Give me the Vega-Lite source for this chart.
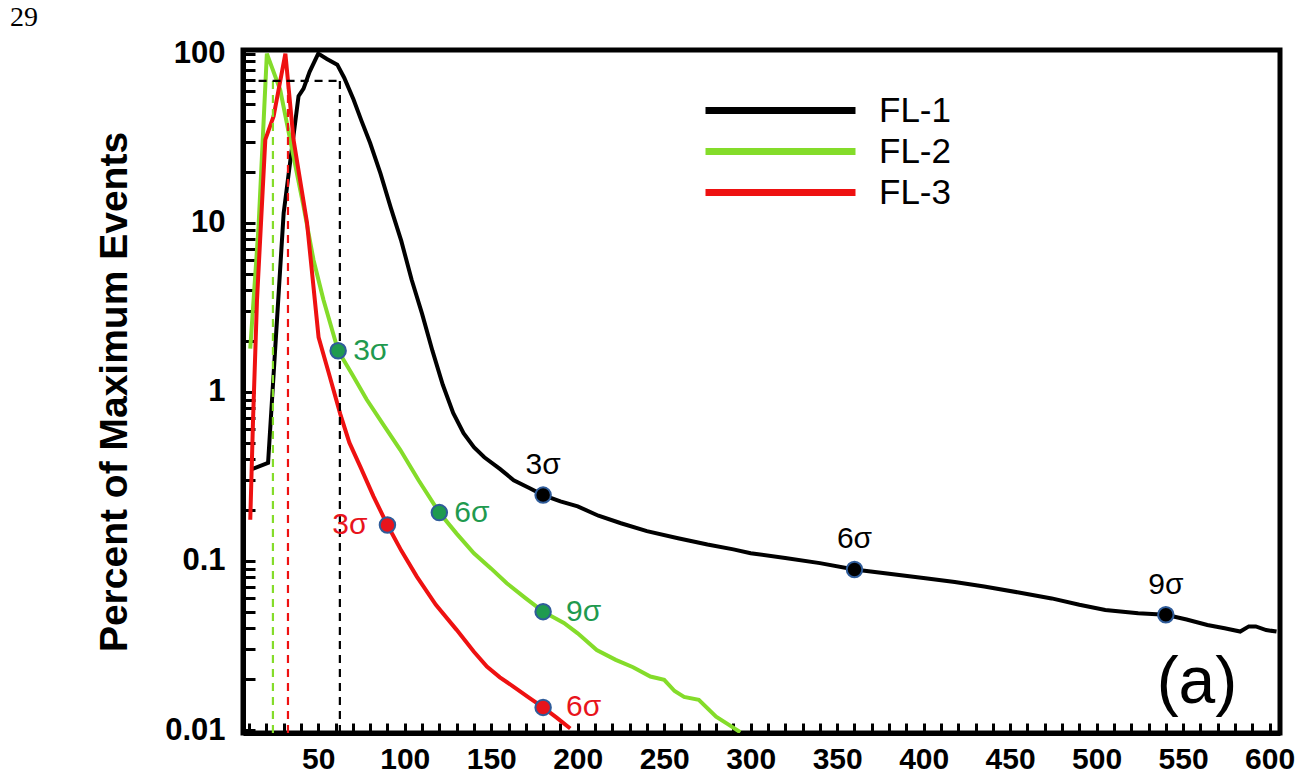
{
  "$schema": "https://vega.github.io/schema/vega-lite/v6.json",
  "width": 1037,
  "height": 683,
  "autosize": {"type": "none"},
  "padding": {"left": 243, "top": 50, "right": 23, "bottom": 48},
  "background": "white",
  "title": {"text": "29", "anchor": "start", "frame": "group", "font": "Liberation Serif", "fontSize": 28, "fontWeight": "normal", "color": "#000", "dx": -233, "dy": 33, "offset": 17, "baseline": "alphabetic"},
  "config": {"view": {"stroke": "#000", "strokeWidth": 5}},
  "datasets": {
    "curves": [
      {"s":"FL-1","x":12,"y":0.35},{"s":"FL-1","x":21,"y":0.38},{"s":"FL-1","x":30,"y":11.4},{"s":"FL-1","x":38.6,"y":56},{"s":"FL-1","x":41.5,"y":62},{"s":"FL-1","x":45,"y":78},{"s":"FL-1","x":50,"y":100},{"s":"FL-1","x":55,"y":93},{"s":"FL-1","x":61,"y":86},{"s":"FL-1","x":65,"y":72},{"s":"FL-1","x":70.4,"y":53.5},{"s":"FL-1","x":75,"y":40},{"s":"FL-1","x":80,"y":29.6},{"s":"FL-1","x":86,"y":19.5},{"s":"FL-1","x":92,"y":12.2},{"s":"FL-1","x":98,"y":7.8},{"s":"FL-1","x":104,"y":4.6},{"s":"FL-1","x":110,"y":2.9},{"s":"FL-1","x":116,"y":1.75},{"s":"FL-1","x":122,"y":1.1},{"s":"FL-1","x":128,"y":0.75},{"s":"FL-1","x":134,"y":0.57},{"s":"FL-1","x":140,"y":0.47},{"s":"FL-1","x":146,"y":0.41},{"s":"FL-1","x":155,"y":0.35},{"s":"FL-1","x":163,"y":0.3},{"s":"FL-1","x":172,"y":0.27},{"s":"FL-1","x":180,"y":0.245},{"s":"FL-1","x":190,"y":0.225},{"s":"FL-1","x":200,"y":0.21},{"s":"FL-1","x":212,"y":0.185},{"s":"FL-1","x":225,"y":0.167},{"s":"FL-1","x":240,"y":0.15},{"s":"FL-1","x":258,"y":0.136},{"s":"FL-1","x":275,"y":0.125},{"s":"FL-1","x":290,"y":0.117},{"s":"FL-1","x":300,"y":0.111},{"s":"FL-1","x":320,"y":0.104},{"s":"FL-1","x":340,"y":0.097},{"s":"FL-1","x":360,"y":0.089},{"s":"FL-1","x":380,"y":0.084},{"s":"FL-1","x":401,"y":0.079},{"s":"FL-1","x":418,"y":0.075},{"s":"FL-1","x":435,"y":0.0705},{"s":"FL-1","x":455,"y":0.065},{"s":"FL-1","x":474,"y":0.06},{"s":"FL-1","x":490,"y":0.055},{"s":"FL-1","x":505,"y":0.0513},{"s":"FL-1","x":524,"y":0.049},{"s":"FL-1","x":540,"y":0.048},{"s":"FL-1","x":552,"y":0.045},{"s":"FL-1","x":564,"y":0.0418},{"s":"FL-1","x":574,"y":0.04},{"s":"FL-1","x":583,"y":0.0382},{"s":"FL-1","x":588,"y":0.041},{"s":"FL-1","x":592,"y":0.041},{"s":"FL-1","x":598,"y":0.039},{"s":"FL-1","x":604,"y":0.0382},
      {"s":"FL-2","x":10.7,"y":1.8},{"s":"FL-2","x":15.5,"y":9.5},{"s":"FL-2","x":20.3,"y":100},{"s":"FL-2","x":28,"y":61},{"s":"FL-2","x":35.7,"y":24.7},{"s":"FL-2","x":41.5,"y":12.5},{"s":"FL-2","x":47.3,"y":6},{"s":"FL-2","x":53,"y":3.5},{"s":"FL-2","x":61.5,"y":1.75},{"s":"FL-2","x":70,"y":1.25},{"s":"FL-2","x":78,"y":0.9},{"s":"FL-2","x":88,"y":0.63},{"s":"FL-2","x":97.4,"y":0.454},{"s":"FL-2","x":108,"y":0.3},{"s":"FL-2","x":120,"y":0.193},{"s":"FL-2","x":130,"y":0.145},{"s":"FL-2","x":140,"y":0.111},{"s":"FL-2","x":150,"y":0.09},{"s":"FL-2","x":159,"y":0.0738},{"s":"FL-2","x":170,"y":0.06},{"s":"FL-2","x":180,"y":0.0501},{"s":"FL-2","x":192,"y":0.043},{"s":"FL-2","x":200,"y":0.0373},{"s":"FL-2","x":211,"y":0.0297},{"s":"FL-2","x":222,"y":0.026},{"s":"FL-2","x":232,"y":0.0235},{"s":"FL-2","x":242,"y":0.0207},{"s":"FL-2","x":250,"y":0.0198},{"s":"FL-2","x":256,"y":0.017},{"s":"FL-2","x":261.5,"y":0.0157},{"s":"FL-2","x":270,"y":0.0151},{"s":"FL-2","x":280,"y":0.012},{"s":"FL-2","x":287,"y":0.0108},{"s":"FL-2","x":294,"y":0.0097},
      {"s":"FL-3","x":10.7,"y":0.175},{"s":"FL-3","x":12.3,"y":0.68},{"s":"FL-3","x":14.6,"y":3.5},{"s":"FL-3","x":19.4,"y":31},{"s":"FL-3","x":24.2,"y":42.6},{"s":"FL-3","x":31,"y":100},{"s":"FL-3","x":35.7,"y":31},{"s":"FL-3","x":43.5,"y":10},{"s":"FL-3","x":50.2,"y":2.1},{"s":"FL-3","x":56,"y":1.3},{"s":"FL-3","x":62.7,"y":0.74},{"s":"FL-3","x":68,"y":0.5},{"s":"FL-3","x":74.3,"y":0.361},{"s":"FL-3","x":82,"y":0.24},{"s":"FL-3","x":90,"y":0.163},{"s":"FL-3","x":98,"y":0.115},{"s":"FL-3","x":107,"y":0.0807},{"s":"FL-3","x":118,"y":0.055},{"s":"FL-3","x":130,"y":0.0391},{"s":"FL-3","x":140,"y":0.029},{"s":"FL-3","x":147.5,"y":0.0237},{"s":"FL-3","x":155,"y":0.0205},{"s":"FL-3","x":163,"y":0.018},{"s":"FL-3","x":172,"y":0.0155},{"s":"FL-3","x":180,"y":0.0136},{"s":"FL-3","x":188,"y":0.0118},{"s":"FL-3","x":195.7,"y":0.0102}
    ],
    "marks": [
      {"s":"FL-1","x":180,"y":0.245,"label":"3σ"},{"s":"FL-1","x":360,"y":0.089,"label":"6σ"},{"s":"FL-1","x":540,"y":0.048,"label":"9σ"},
      {"s":"FL-2","x":61.5,"y":1.75,"label":"3σ"},{"s":"FL-2","x":120,"y":0.193,"label":"6σ"},{"s":"FL-2","x":180,"y":0.0501,"label":"9σ"},
      {"s":"FL-3","x":90,"y":0.163,"label":"3σ"},{"s":"FL-3","x":180,"y":0.0136,"label":"6σ"}
    ],
    "vguides": [
      {"s":"FL-1","x":62.5,"y":0.0096,"y2":69},
      {"s":"FL-2","x":23.8,"y":0.0096,"y2":69},
      {"s":"FL-3","x":32.5,"y":0.0096,"y2":69}
    ],
    "hguides": [
      {"x":15.5,"x2":62.5,"y":69}
    ],
    "panel": [
      {"x":558,"y":0.019,"label":"(a)"}
    ]
  },
  "resolve": {"axis": {"x": "independent", "y": "independent"}},
  "layer": [
    {
      "data": {"name": "curves"},
      "mark": {"type": "line", "strokeWidth": 4, "clip": true},
      "encoding": {
        "x": {"field": "x", "type": "quantitative",
          "scale": {"type": "linear", "domain": [6.5, 606], "nice": false, "zero": false},
          "axis": {"orient": "bottom", "title": null, "grid": false,
            "values": [10,20,30,40,50,60,70,80,90,100,110,120,130,140,150,160,170,180,190,200,210,220,230,240,250,260,270,280,290,300,310,320,330,340,350,360,370,380,390,400,410,420,430,440,450,460,470,480,490,500,510,520,530,540,550,560,570,580,590,600],
            "domainWidth": 5, "domainColor": "#000",
            "tickColor": "#000", "tickWidth": 3,
            "tickSize": -10,
            "labelExpr": "datum.value % 50 === 0 ? datum.label : ''",
            "labelFont": "Liberation Sans", "labelFontSize": 30, "labelFontWeight": "bold", "labelColor": "#000",
            "labelPadding": 21, "labelOverlap": false}},
        "y": {"field": "y", "type": "quantitative",
          "scale": {"type": "log", "domain": [0.0096, 105], "nice": false},
          "axis": {"orient": "left", "grid": false,
            "title": "Percent of Maximum Events", "titleFont": "Liberation Sans", "titleFontSize": 39, "titleFontWeight": "bold", "titleColor": "#000",
            "titleAngle": -90, "titleX": -129, "titleY": 341.5, "titleAlign": "center", "titleBaseline": "middle",
            "values": [0.01,0.02,0.03,0.04,0.05,0.06,0.07,0.08,0.09,0.1,0.2,0.3,0.4,0.5,0.6,0.7,0.8,0.9,1,2,3,4,5,6,7,8,9,10,20,30,40,50,60,70,80,90,100],
            "format": "~g",
            "domainWidth": 5, "domainColor": "#000",
            "tickColor": "#000", "tickWidth": 3,
            "tickSize": -12,
            "labelExpr": "indexof([0.01,0.1,1,10,100], datum.value) >= 0 ? datum.label : ''",
            "labelFont": "Liberation Sans", "labelFontSize": 31, "labelFontWeight": "bold", "labelColor": "#000",
            "labelPadding": 30, "labelOverlap": false}},
        "color": {"field": "s", "type": "nominal",
          "scale": {"domain": ["FL-1","FL-2","FL-3"], "range": ["#000000","#84dc2a","#ee1111"]},
          "legend": {"orient": "none", "legendX": 519, "legendY": 42, "title": null, "padding": 0,
            "symbolType": "M-5,0H5", "symbolSize": 900, "symbolStrokeWidth": 7, "symbolDash": [1, 0],
            "labelFont": "Liberation Sans", "labelFontSize": 35, "labelColor": "#000", "labelOffset": 80, "rowPadding": 4}}
      }
    },
    {
      "data": {"name": "vguides"},
      "mark": {"type": "rule", "strokeWidth": 2.2, "strokeDash": [8, 6]},
      "encoding": {
        "x": {"field": "x", "type": "quantitative", "scale": {"type": "linear", "domain": [6.5, 606], "nice": false, "zero": false}, "axis": null},
        "y": {"field": "y", "type": "quantitative", "scale": {"type": "log", "domain": [0.0096, 105], "nice": false}, "axis": null},
        "y2": {"field": "y2"},
        "color": {"field": "s", "type": "nominal"}
      }
    },
    {
      "data": {"name": "hguides"},
      "mark": {"type": "rule", "strokeWidth": 2.2, "strokeDash": [8, 6], "color": "#000"},
      "encoding": {
        "x": {"field": "x", "type": "quantitative", "scale": {"type": "linear", "domain": [6.5, 606], "nice": false, "zero": false}, "axis": null},
        "x2": {"field": "x2"},
        "y": {"field": "y", "type": "quantitative", "scale": {"type": "log", "domain": [0.0096, 105], "nice": false}, "axis": null}
      }
    },
    {
      "data": {"name": "marks"},
      "mark": {"type": "circle", "size": 240, "opacity": 1, "stroke": "#2f5c9a", "strokeWidth": 2},
      "encoding": {
        "x": {"field": "x", "type": "quantitative", "scale": {"type": "linear", "domain": [6.5, 606], "nice": false, "zero": false}, "axis": null},
        "y": {"field": "y", "type": "quantitative", "scale": {"type": "log", "domain": [0.0096, 105], "nice": false}, "axis": null},
        "fill": {"field": "s", "type": "nominal",
          "scale": {"domain": ["FL-1","FL-2","FL-3"], "range": ["#000000","#1f9a4f","#e8141c"]}, "legend": null}
      }
    },
    {
      "data": {"name": "marks"},
      "transform": [{"filter": "datum.s === 'FL-2' && datum.x < 150"}],
      "mark": {"type": "text", "align": "left", "baseline": "middle", "dx": 15, "font": "Liberation Sans", "fontSize": 30},
      "encoding": {
        "x": {"field": "x", "type": "quantitative", "scale": {"type": "linear", "domain": [6.5, 606], "nice": false, "zero": false}, "axis": null},
        "y": {"field": "y", "type": "quantitative", "scale": {"type": "log", "domain": [0.0096, 105], "nice": false}, "axis": null},
        "text": {"field": "label"},
        "fill": {"field": "s", "type": "nominal", "legend": null}
      }
    },
    {
      "data": {"name": "marks"},
      "transform": [{"filter": "datum.x === 180 && datum.s !== 'FL-1'"}],
      "mark": {"type": "text", "align": "left", "baseline": "middle", "dx": 23, "font": "Liberation Sans", "fontSize": 30},
      "encoding": {
        "x": {"field": "x", "type": "quantitative", "scale": {"type": "linear", "domain": [6.5, 606], "nice": false, "zero": false}, "axis": null},
        "y": {"field": "y", "type": "quantitative", "scale": {"type": "log", "domain": [0.0096, 105], "nice": false}, "axis": null},
        "text": {"field": "label"},
        "fill": {"field": "s", "type": "nominal", "legend": null}
      }
    },
    {
      "data": {"name": "marks"},
      "transform": [{"filter": "datum.s === 'FL-3' && datum.x < 150"}],
      "mark": {"type": "text", "align": "right", "baseline": "middle", "dx": -20, "font": "Liberation Sans", "fontSize": 30},
      "encoding": {
        "x": {"field": "x", "type": "quantitative", "scale": {"type": "linear", "domain": [6.5, 606], "nice": false, "zero": false}, "axis": null},
        "y": {"field": "y", "type": "quantitative", "scale": {"type": "log", "domain": [0.0096, 105], "nice": false}, "axis": null},
        "text": {"field": "label"},
        "fill": {"field": "s", "type": "nominal", "legend": null}
      }
    },
    {
      "data": {"name": "marks"},
      "transform": [{"filter": "datum.s === 'FL-1'"}],
      "mark": {"type": "text", "align": "center", "baseline": "middle", "dy": -30, "font": "Liberation Sans", "fontSize": 30},
      "encoding": {
        "x": {"field": "x", "type": "quantitative", "scale": {"type": "linear", "domain": [6.5, 606], "nice": false, "zero": false}, "axis": null},
        "y": {"field": "y", "type": "quantitative", "scale": {"type": "log", "domain": [0.0096, 105], "nice": false}, "axis": null},
        "text": {"field": "label"},
        "fill": {"field": "s", "type": "nominal", "legend": null}
      }
    },
    {
      "data": {"name": "panel"},
      "mark": {"type": "text", "align": "center", "baseline": "middle", "font": "Liberation Sans", "fontSize": 66, "color": "#000"},
      "encoding": {
        "x": {"field": "x", "type": "quantitative", "scale": {"type": "linear", "domain": [6.5, 606], "nice": false, "zero": false}, "axis": null},
        "y": {"field": "y", "type": "quantitative", "scale": {"type": "log", "domain": [0.0096, 105], "nice": false}, "axis": null},
        "text": {"field": "label"}
      }
    }
  ]
}
